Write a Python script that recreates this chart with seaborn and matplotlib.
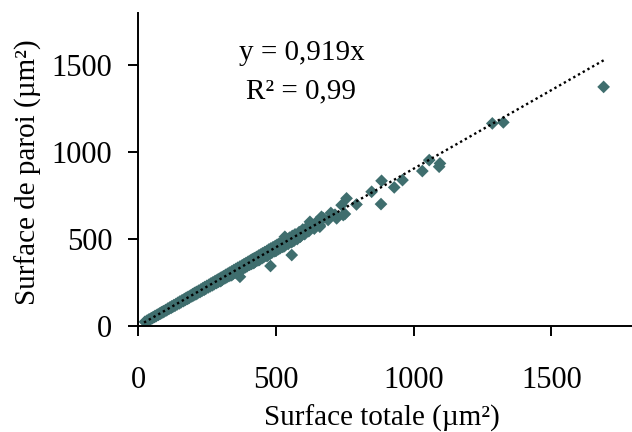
import matplotlib
matplotlib.use("Agg")
import matplotlib.pyplot as plt
import seaborn as sns
import pandas as pd

# ---- data ----
dense_x = [25, 28, 32, 36, 40, 44, 48, 52, 55, 60, 62, 66, 70, 74, 78, 82, 85, 90, 92, 96,
           100, 104, 108, 112, 115, 120, 122, 126, 130, 134, 138, 142, 145, 150, 152, 156,
           160, 165, 168, 172, 175, 180, 182, 186, 190, 195, 198, 202, 205, 210, 212, 216,
           220, 225, 228, 232, 235, 240, 242, 246, 250, 255, 258, 262, 265, 270, 272, 276,
           280, 285, 288, 292, 295, 300, 302, 306, 310, 315, 318, 322, 325, 330, 332, 336,
           340, 345, 348, 352, 355, 360, 362, 366, 370, 375, 378, 382, 385, 390, 392, 396,
           400, 405, 408, 412, 415, 420, 422, 426, 430, 435, 438, 442, 445, 450, 452, 456,
           460, 465, 468, 472, 475, 480, 482, 486, 490, 495, 498, 502, 505, 510, 512, 516,
           520, 525, 528, 535, 540, 545, 550, 556, 560, 566, 570, 578, 585, 590, 598, 605,
           612, 620, 628, 640, 648, 660, 672, 690, 700, 715,
           300, 340, 380, 420, 440, 470, 500, 530, 560]
dense_y = [24, 22, 30, 31, 38, 37, 45, 45, 51, 52, 58, 57, 65, 64, 72, 71, 79, 78, 85, 84,
           92, 90, 100, 98, 106, 104, 113, 110, 120, 116, 127, 124, 134, 130, 141, 136,
           148, 143, 155, 150, 162, 156, 168, 162, 175, 170, 183, 176, 190, 182, 196, 188,
           203, 195, 210, 202, 217, 208, 224, 214, 231, 222, 238, 228, 245, 234, 251, 240,
           259, 247, 266, 254, 272, 261, 279, 266, 286, 274, 294, 280, 300, 287, 307, 292,
           314, 300, 322, 306, 328, 312, 335, 318, 342, 325, 349, 332, 356, 338, 362, 344,
           370, 352, 377, 357, 384, 364, 390, 370, 397, 377, 405, 383, 411, 390, 418, 396,
           425, 403, 432, 410, 440, 416, 446, 422, 453, 430, 460, 435, 467, 442, 473, 448,
           480, 455, 488, 465, 500, 472, 508, 482, 518, 490, 527, 500, 540, 515, 555, 528,
           565, 545, 580, 560, 598, 580, 620, 610, 650, 640,
           258, 292, 328, 362, 380, 404, 432, 458, 486]
sparse_x = [1690, 1286, 1326, 1057, 1096, 1093, 1032, 960, 930, 884, 848, 882, 793, 757,
            745, 739, 751, 721, 666, 660, 624, 588, 558, 481, 533, 370]
sparse_y = [1375, 1165, 1171, 954, 935, 916, 891, 839, 797, 835, 772, 701, 699, 734,
            638, 695, 644, 619, 628, 571, 599, 513, 408, 345, 513, 283]
trend_x = [22, 1690]
trend_y = [20, 1528]

x_ticks = [0, 500, 1000, 1500]
y_ticks = [0, 500, 1000, 1500]
x_label = "Surface totale (µm²)"
y_label = "Surface de paroi (µm²)"
eq_text = "y = 0,919x"
r2_text = "R² = 0,99"

df = pd.DataFrame({"x": dense_x + sparse_x, "y": dense_y + sparse_y})

sns.set_style("white")
plt.rcParams["font.family"] = ["Liberation Serif", "DejaVu Serif"]
plt.rcParams["text.color"] = "black"

W, H = 632, 432
fig = plt.figure(figsize=(W / 100, H / 100), dpi=100)
ax = fig.add_axes([138 / W, (H - 326) / H, (W - 138) / W, (326 - 13) / H])

ax.plot(trend_x, trend_y, color="black", linestyle=(0, (1, 1.3)), linewidth=1.7, zorder=3)
sns.scatterplot(data=df, x="x", y="y", marker="D", s=42, color="#3f6e6e",
                edgecolor="none", linewidth=0, ax=ax, zorder=2)

ax.set_xlim(0, 1793)
ax.set_ylim(0, 1800)
ax.set_xticks(x_ticks)
ax.set_yticks(y_ticks)
ax.set_xlabel("")
ax.set_ylabel("")
for s in ["top", "right"]:
    ax.spines[s].set_visible(False)
for s in ["left", "bottom"]:
    ax.spines[s].set_color("black")
    ax.spines[s].set_linewidth(1.4)
ax.tick_params(axis="both", direction="out", length=7.5, width=1.4, color="black",
               labelsize=22, labelcolor="black", left=True, bottom=True)
ax.tick_params(axis="x", pad=21)
ax.tick_params(axis="y", pad=11)

fig.text(382 / W, 1 - 418 / H, x_label, ha="center", va="center", fontsize=21, color="black")
fig.text(28 / W, 1 - 172 / H, y_label, ha="center", va="center", rotation=90, fontsize=21,
         color="black")
fig.text(302 / W, 1 - 53 / H, eq_text, ha="center", va="center", fontsize=21, color="black")
fig.text(301 / W, 1 - 91 / H, r2_text, ha="center", va="center", fontsize=21, color="black")

fig.savefig("out.png", dpi=100)
